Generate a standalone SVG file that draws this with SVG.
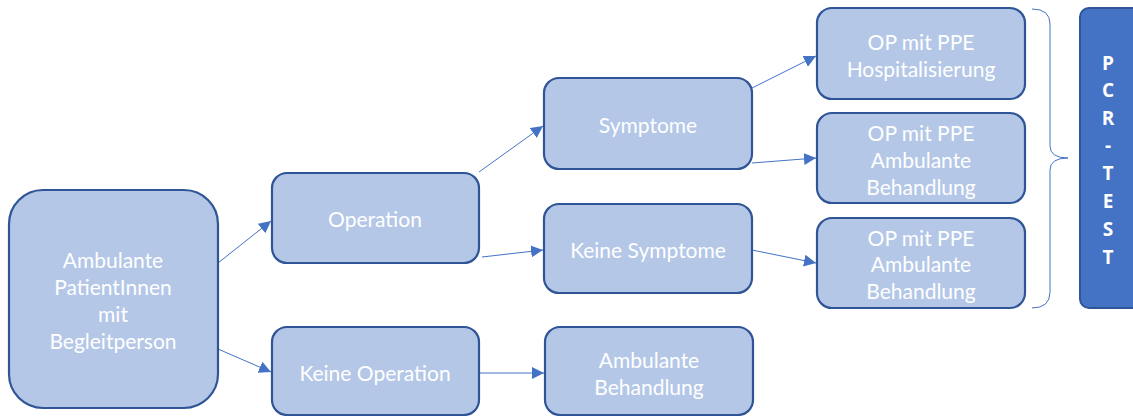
<svg xmlns="http://www.w3.org/2000/svg" width="1133" height="416" viewBox="0 0 1133 416">
<style>
.n{fill:#B4C7E7;stroke:#2F5597;stroke-width:2.2}
.t{font-family:"Lato","Liberation Sans",sans-serif;font-size:21px;fill:#fff;text-anchor:middle;dominant-baseline:central}
.c{stroke:#4472C4;stroke-width:1;fill:none}
.b{font-family:"Open Sans","Liberation Sans",sans-serif;font-size:19px;font-weight:bold;fill:#fff;text-anchor:middle;dominant-baseline:central}
</style>
<defs>
<marker id="a" viewBox="0 0 12 12" refX="12" refY="6" markerWidth="12" markerHeight="12" markerUnits="userSpaceOnUse" orient="auto">
<path d="M0,0L12,6L0,12z" fill="#4472C4"/>
</marker>
</defs>
<g id="connectors">
<line class="c" x1="218" y1="263" x2="271" y2="221" marker-end="url(#a)"/>
<line class="c" x1="218" y1="349" x2="271" y2="372" marker-end="url(#a)"/>
<line class="c" x1="479" y1="172" x2="543" y2="126" marker-end="url(#a)"/>
<line class="c" x1="482" y1="257" x2="543" y2="250" marker-end="url(#a)"/>
<line class="c" x1="752" y1="88" x2="816" y2="56" marker-end="url(#a)"/>
<line class="c" x1="752" y1="163" x2="816" y2="158" marker-end="url(#a)"/>
<line class="c" x1="752" y1="250" x2="816" y2="263" marker-end="url(#a)"/>
<line class="c" x1="479" y1="373" x2="544" y2="373" marker-end="url(#a)"/>
<path class="c" d="M1032,9 Q1050,9 1050,24 L1050,146 Q1050,158 1068,158 Q1050,158 1050,170 L1050,292 Q1050,308 1032,308"/>
</g>
<g id="n1"><rect class="n" x="9" y="190" width="209" height="218" rx="34"/>
<text class="t" x="113" y="259">Ambulante</text><text class="t" x="113" y="286">PatientInnen</text><text class="t" x="113" y="313">mit</text><text class="t" x="113" y="340">Begleitperson</text></g>
<g id="n2"><rect class="n" x="272" y="173" width="207" height="90" rx="15"/><text class="t" x="375" y="218">Operation</text></g>
<g id="n3"><rect class="n" x="272" y="327" width="207" height="88" rx="15"/><text class="t" x="375" y="372">Keine Operation</text></g>
<g id="n4"><rect class="n" x="544" y="78" width="208" height="91" rx="15"/><text class="t" x="648" y="124">Symptome</text></g>
<g id="n5"><rect class="n" x="544" y="204" width="208" height="89" rx="15"/><text class="t" x="648" y="249">Keine Symptome</text></g>
<g id="n6"><rect class="n" x="545" y="327" width="208" height="88" rx="15"/><text class="t" x="649" y="359">Ambulante</text><text class="t" x="649" y="386">Behandlung</text></g>
<g id="n7"><rect class="n" x="817" y="8" width="208" height="91" rx="15"/><text class="t" x="921" y="41">OP mit PPE</text><text class="t" x="921" y="68">Hospitalisierung</text></g>
<g id="n8"><rect class="n" x="817" y="113" width="208" height="90" rx="15"/><text class="t" x="921" y="132">OP mit PPE</text><text class="t" x="921" y="159">Ambulante</text><text class="t" x="921" y="186">Behandlung</text></g>
<g id="n9"><rect class="n" x="817" y="218" width="208" height="90" rx="15"/><text class="t" x="921" y="237">OP mit PPE</text><text class="t" x="921" y="263">Ambulante</text><text class="t" x="921" y="290">Behandlung</text></g>
<g id="n10"><rect x="1080" y="8" width="66" height="300" rx="9" fill="#4472C4" stroke="#2F5597" stroke-width="2"/>
<text class="b" x="1108" y="63">P</text><text class="b" x="1108" y="90">C</text><text class="b" x="1108" y="118">R</text><text class="b" x="1108" y="145">-</text><text class="b" x="1108" y="173">T</text><text class="b" x="1108" y="201">E</text><text class="b" x="1108" y="229">S</text><text class="b" x="1108" y="257">T</text></g>
</svg>
